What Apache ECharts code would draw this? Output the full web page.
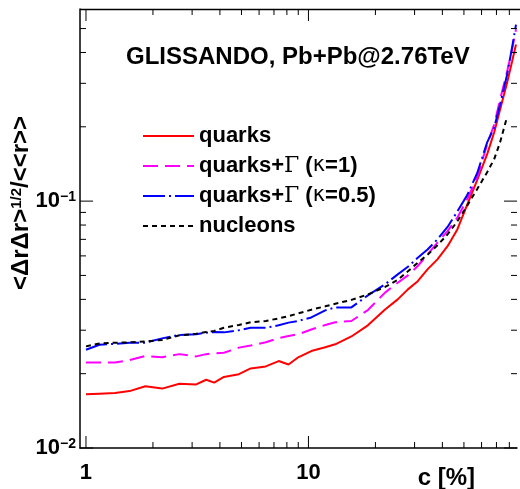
<!DOCTYPE html>
<html>
<head>
<meta charset="utf-8">
<script src="https://cdn.jsdelivr.net/npm/echarts@6/dist/echarts.min.js"></script>
<style>
  html, body { margin: 0; padding: 0; background: #fff; }
  #chart { width: 520px; height: 489px; }
</style>
</head>
<body>
<div id="chart"></div>
<script>
// centrality c [%]
const centrality = [1, 1.15, 1.35, 1.57, 1.85, 2.2, 2.63, 3.13, 3.47, 3.77, 4.17, 4.87, 5.5, 6.43,
  7.35, 8.14, 9.0, 10.3, 11.9, 13.2, 15.6, 18.5, 22.1, 25.2, 28, 31, 34.3, 38, 42.2, 46.7, 51.8,
  57.4, 63.6, 68.4, 72.7, 78.2, 82.3, 85.7]
// <ΔrΔr>^{1/2}/<<r>>
const quarks = [0.0165, 0.0166, 0.0167, 0.0170, 0.0178, 0.0174, 0.0182, 0.0181, 0.0189, 0.0184,
  0.0194, 0.0199, 0.0210, 0.0214, 0.0225, 0.0218, 0.0233, 0.0247, 0.0256, 0.0263, 0.0283, 0.0314,
  0.0364, 0.0400, 0.0439, 0.0474, 0.0529, 0.0581, 0.0657, 0.0768, 0.0970, 0.122, 0.155, 0.190,
  0.235, 0.302, 0.368, 0.431]
const quarksK1 = [0.0222, 0.0222, 0.0222, 0.0227, 0.0236, 0.0233, 0.0240, 0.0235, 0.0240, 0.0242,
  0.0243, 0.0255, 0.0260, 0.0268, 0.0279, 0.0284, 0.0289, 0.0302, 0.0315, 0.0323, 0.0327, 0.0362,
  0.0426, 0.0467, 0.0500, 0.0546, 0.0608, 0.0679, 0.0756, 0.0857, 0.102, 0.125, 0.170, 0.204,
  0.258, 0.335, 0.411, 0.496]
const quarksK05 = [0.0250, 0.0262, 0.0264, 0.0267, 0.0267, 0.0278, 0.0287, 0.0289, 0.0293, 0.0295,
  0.0294, 0.0300, 0.0307, 0.0307, 0.0314, 0.0322, 0.0327, 0.0338, 0.0361, 0.0371, 0.0371, 0.0415,
  0.0460, 0.0505, 0.0542, 0.0590, 0.0637, 0.0700, 0.0786, 0.0908, 0.106, 0.130, 0.173, 0.199,
  0.246, 0.326, 0.419, 0.519]
const nucleons = [0.0258, 0.0265, 0.0267, 0.0268, 0.0270, 0.0274, 0.0286, 0.0290, 0.0295, 0.0298,
  0.0307, 0.0315, 0.0323, 0.0327, 0.0335, 0.0342, 0.0351, 0.0363, 0.0375, 0.0384, 0.0398, 0.0419,
  0.0449, 0.0480, 0.0520, 0.0563, 0.0606, 0.0662, 0.0733, 0.0828, 0.0961, 0.112, 0.131, 0.148,
  0.173, 0.220, null, null]

const seriesNames = ['quarks', 'quarks+Γ (κ=1)', 'quarks+Γ (κ=0.5)', 'nucleons']

const xMajorTicks = [1, 10]
const xMinorTicks = [2, 3, 4, 5, 6, 7, 8, 9, 20, 30, 40, 50, 60, 70, 80]
const yMajorTicks = [0.01, 0.1]
const yMinorTicks = [0.02, 0.03, 0.04, 0.05, 0.06, 0.07, 0.08, 0.09, 0.2, 0.3, 0.4, 0.5]

const font = '"Liberation Sans", Arial, Helvetica, sans-serif'

function pairs (ys) {
  return centrality.map((c, i) => [c, ys[i]]).filter(p => p[1] !== null)
}

function isPow10 (v) {
  const l = Math.log10(v)
  return Math.abs(l - Math.round(l)) < 1e-6
}

// tick marks on all four sides, positioned through the axes' own scales
function tickSeries (values, dir, len) {
  return {
    type: 'custom',
    silent: true,
    z: 5,
    clip: false,
    data: values.map(v => dir === 'x' ? [v, 0.1] : [10, v]),
    renderItem: function (params, api) {
      const cs = params.coordSys
      const p = api.coord([api.value(0), api.value(1)])
      const style = { stroke: '#000', lineWidth: 1 }
      if (dir === 'x') {
        return {
          type: 'group',
          children: [
            { type: 'line', shape: { x1: p[0], y1: cs.y + cs.height, x2: p[0], y2: cs.y + cs.height - len }, style: style },
            { type: 'line', shape: { x1: p[0], y1: cs.y, x2: p[0], y2: cs.y + len }, style: style }
          ]
        }
      }
      return {
        type: 'group',
        children: [
          { type: 'line', shape: { x1: cs.x, y1: p[1], x2: cs.x + len, y2: p[1] }, style: style },
          { type: 'line', shape: { x1: cs.x + cs.width, y1: p[1], x2: cs.x + cs.width - len, y2: p[1] }, style: style }
        ]
      }
    }
  }
}

function lineSeries (name, ys, color, dash) {
  return {
    name: name,
    type: 'line',
    data: pairs(ys),
    symbol: 'none',
    showSymbol: false,
    lineStyle: { color: color, width: 2, type: dash },
    itemStyle: { color: color }
  }
}

const chart = echarts.init(document.getElementById('chart'))
chart.setOption({
  animation: false,
  backgroundColor: '#fff',
  title: {
    text: 'GLISSANDO, Pb+Pb@2.76TeV',
    left: 126,
    top: 45,
    padding: 0,
    textStyle: { fontSize: 24, fontWeight: 'bold', fontFamily: font, color: '#000' }
  },
  legend: {
    data: seriesNames,
    orient: 'vertical',
    left: 137,
    top: 120,
    itemWidth: 51,
    itemHeight: 14,
    itemGap: 8,
    itemStyle: { opacity: 0, borderWidth: 0 },
    formatter: name => name.replace('Γ', '{g|Γ}').replace('κ', '{k|κ}'),
    textStyle: {
      fontSize: 22,
      fontWeight: 'bold',
      fontFamily: font,
      color: '#000',
      rich: {
        g: { fontSize: 22, fontWeight: 'normal', fontFamily: '"DejaVu Serif", serif', color: '#000' },
        k: { fontSize: 21, fontWeight: 'normal', fontFamily: '"DejaVu Sans", sans-serif', color: '#000' }
      }
    }
  },
  grid: { left: 80, top: 9, right: 0, bottom: 41, containLabel: false },
  xAxis: {
    type: 'log',
    logBase: 10,
    min: 0.94,
    max: 86.6,
    axisLine: { show: true, lineStyle: { color: '#000', width: 1.5 } },
    axisTick: { show: false },
    splitLine: { show: false },
    axisLabel: {
      margin: 14,
      fontSize: 22,
      fontWeight: 'bold',
      fontFamily: font,
      color: '#000',
      formatter: v => isPow10(v) ? String(Math.round(v)) : ''
    }
  },
  yAxis: {
    type: 'log',
    logBase: 10,
    min: 0.01,
    max: 0.6,
    axisLine: { show: true, lineStyle: { color: '#000', width: 1.5 } },
    axisTick: { show: false },
    splitLine: { show: false },
    axisLabel: {
      margin: 4,
      color: '#000',
      formatter: v => isPow10(v) ? '{b|10}{s|−' + (-Math.round(Math.log10(v))) + '}' : '',
      rich: {
        b: { fontSize: 22, fontWeight: 'bold', fontFamily: font, color: '#000' },
        s: { fontSize: 14, fontWeight: 'bold', fontFamily: font, color: '#000', verticalAlign: 'top' }
      }
    }
  },
  graphic: [
    {
      type: 'line',
      shape: { x1: 80, y1: 9.5, x2: 520, y2: 9.5 },
      style: { stroke: '#000', lineWidth: 1.5 }
    },
    {
      type: 'text',
      x: 21,
      y: 203,
      rotation: Math.PI / 2,
      style: {
        text: '{a|<ΔrΔr>}{s|1/2}{a|/<<r>>}',
        align: 'center',
        verticalAlign: 'middle',
        rich: {
          a: { fontSize: 24, fontWeight: 'bold', fontFamily: font, fill: '#000' },
          s: { fontSize: 15, fontWeight: 'bold', fontFamily: font, fill: '#000', verticalAlign: 'top' }
        }
      }
    },
    {
      type: 'text',
      x: 475,
      y: 478,
      style: {
        text: 'c [%]',
        align: 'right',
        verticalAlign: 'middle',
        fontSize: 24,
        fontWeight: 'bold',
        fontFamily: font,
        fill: '#000'
      }
    }
  ],
  series: [
    lineSeries(seriesNames[0], quarks, '#ff0000', 'solid'),
    lineSeries(seriesNames[1], quarksK1, '#ff00ff', [15, 7]),
    lineSeries(seriesNames[2], quarksK05, '#0000ff', [22, 4, 2, 4]),
    lineSeries(seriesNames[3], nucleons, '#000000', [5, 4]),
    tickSeries(xMajorTicks, 'x', 12),
    tickSeries(xMinorTicks, 'x', 6),
    tickSeries(yMajorTicks, 'y', 13),
    tickSeries(yMinorTicks, 'y', 6)
  ]
})
</script>
</body>
</html>
